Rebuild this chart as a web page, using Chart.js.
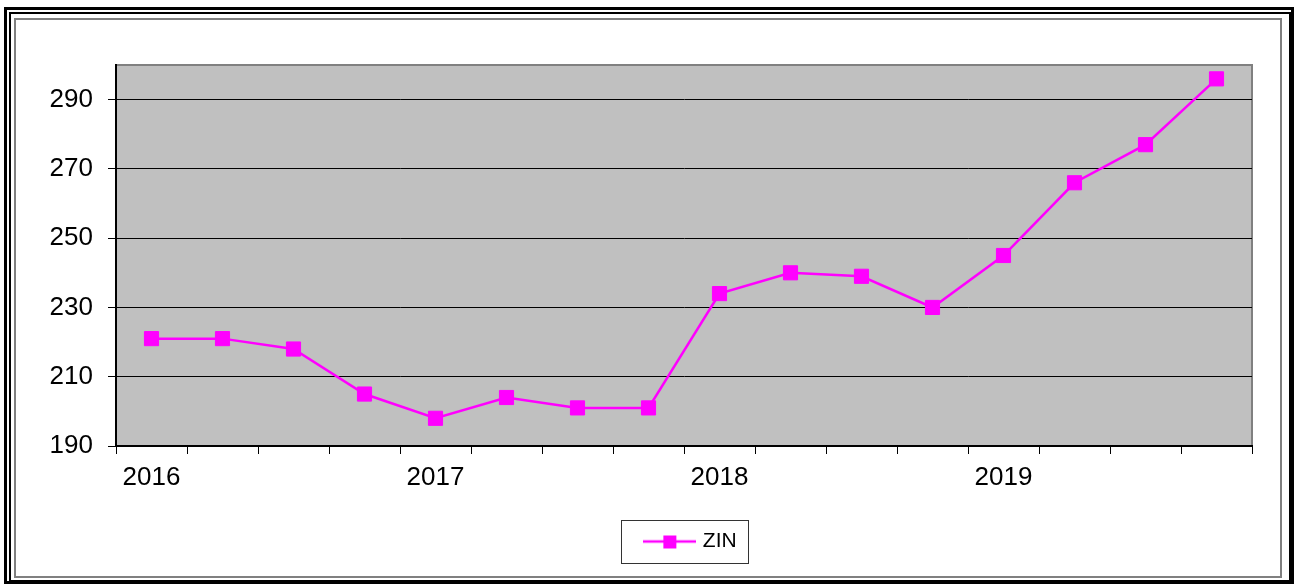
<!DOCTYPE html>
<html>
<head>
<meta charset="utf-8">
<script src="https://cdn.jsdelivr.net/npm/chart.js@4.4.0/dist/chart.umd.min.js"></script>
<style>
    body { margin: 0; background: #fff; }
    #wrap { position: relative; width: 1295px; height: 584px; overflow: hidden; }
    .frame { position: absolute; box-sizing: border-box; }
    #f1 { left: 4px; top: 7px; width: 1290px; height: 577px; border: 3px solid #000; }
    #f2 { left: 9px; top: 12px; width: 1282px; height: 570px; border: 2px solid #000; }
    #f3 { left: 14px; top: 18px; width: 1268px; height: 560px; border: 2px solid #808080; background: #fff; }
    #myChart { position: absolute; left: 0; top: 0; }
</style>
</head>
<body>
<div id="wrap">
    <div class="frame" id="f1"></div>
    <div class="frame" id="f2"></div>
    <div class="frame" id="f3"></div>
    <canvas id="myChart" width="1295" height="584"></canvas>
</div>
<script>
// kwartaly 2016-2019
const categories = [
    "2016 I", "2016 II", "2016 III", "2016 IV",
    "2017 I", "2017 II", "2017 III", "2017 IV",
    "2018 I", "2018 II", "2018 III", "2018 IV",
    "2019 I", "2019 II", "2019 III", "2019 IV"
];
const zinValues = [221, 221, 218, 205, 198, 204, 201, 201, 234, 240, 239, 230, 245, 266, 277, 296];
const yTicks = [190, 210, 230, 250, 270, 290];
const seriesName = "ZIN";

const magenta = "#FF00FF";
const font = { family: "'Liberation Sans', Arial, sans-serif", size: 26 };

// obrazek do legendy: linia z kwadratem
const legendImg = document.createElement("canvas");
legendImg.width = 53;
legendImg.height = 16;
const lctx = legendImg.getContext("2d");
lctx.strokeStyle = magenta;
lctx.lineWidth = 2.5;
lctx.beginPath();
lctx.moveTo(0, 8);
lctx.lineTo(53, 8);
lctx.stroke();
lctx.fillStyle = magenta;
lctx.fillRect(20, 2, 13, 13);

const plotBackground = {
    id: "plotBackground",
    afterLayout(chart) {
        // legenda troche w prawo, jak w oryginale
        chart.legend.left += 8;
        chart.legend.right += 8;
    },
    beforeDraw(chart) {
        const a = chart.chartArea;
        const c = chart.ctx;
        c.save();
        c.fillStyle = "#C0C0C0";
        c.fillRect(a.left, a.top, a.right - a.left, a.bottom - a.top);
        c.strokeStyle = "#808080";
        c.lineWidth = 2;
        c.beginPath();
        c.moveTo(a.left, a.top);
        c.lineTo(a.right, a.top);
        c.lineTo(a.right, a.bottom);
        c.stroke();
        c.restore();
    },
    afterDraw(chart) {
        const hb = chart.legend.legendHitBoxes[0];
        if (!hb) return;
        const c = chart.ctx;
        const cy = hb.top + hb.height / 2;
        c.save();
        c.strokeStyle = "#333";
        c.lineWidth = 1;
        c.strokeRect(Math.round(hb.left - 26) + 0.5, Math.round(cy - 21.5) + 0.5, 127, 43);
        c.restore();
    }
};

const chartData = {
    type: "line",
    data: {
        labels: categories,
        datasets: [{
            label: seriesName,
            data: zinValues,
            borderColor: magenta,
            backgroundColor: magenta,
            borderWidth: 2.5,
            fill: false,
            tension: 0,
            pointStyle: "rect",
            pointRadius: 10,
            pointBorderWidth: 1,
            pointBackgroundColor: magenta,
            pointBorderColor: magenta
        }]
    },
    options: {
        responsive: false,
        animation: false,
        devicePixelRatio: 1,
        layout: {
            padding: { top: 65, right: 43, left: 0, bottom: 22 }
        },
        plugins: {
            title: { display: false },
            tooltip: { enabled: false },
            legend: {
                display: true,
                position: "bottom",
                fullSize: false,
                labels: {
                    usePointStyle: true,
                    pointStyleWidth: 45,
                    color: "#000",
                    font: { family: font.family, size: 21 },
                    generateLabels(chart) {
                        return [{
                            text: seriesName,
                            pointStyle: legendImg,
                            fillStyle: magenta,
                            strokeStyle: magenta,
                            lineWidth: 0,
                            datasetIndex: 0
                        }];
                    }
                }
            }
        },
        scales: {
            x: {
                type: "category",
                offset: true,
                grid: {
                    offset: true,
                    drawOnChartArea: false,
                    drawTicks: true,
                    tickLength: 8,
                    color: "#000",
                    lineWidth: 1
                },
                border: { color: "#000", width: 2 },
                ticks: {
                    autoSkip: false,
                    maxRotation: 0,
                    padding: 8,
                    color: "#000",
                    font: font,
                    callback: function (value, index) {
                        return index % 4 === 0 ? categories[index].split(" ")[0] : "";
                    }
                },
                afterFit(scale) { scale.height = 75; }
            },
            y: {
                min: 190,
                max: 300,
                afterBuildTicks(scale) {
                    scale.ticks = yTicks.map(v => ({ value: v }));
                },
                grid: { color: "#000", lineWidth: 1, tickLength: 8 },
                border: { color: "#000", width: 2 },
                ticks: {
                    padding: 15,
                    color: "#000",
                    font: font
                },
                afterFit(scale) { scale.width = 116; }
            }
        }
    },
    plugins: [plotBackground]
};

const ctx = document.getElementById("myChart");
new Chart(ctx, chartData);
</script>
</body>
</html>
